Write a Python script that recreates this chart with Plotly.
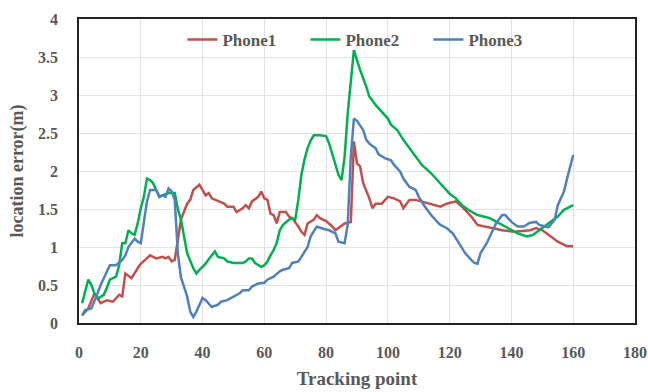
import plotly.graph_objects as go

# Phone1 (red)
p1_x = [1,3,5,7,9,11,13,14,15,17,19,20,23,25,27,28,29,30,31,33,35,36,37,39,41,42,43,45,47,48,50,51,53,54,55,56,58,59,60,61,62,63,64,65,67,68,69,71,72,73,74,76,77,78,80,82,83,84,86,88,89,90,91,92,94,95,96,98,100,102,104,105,107,109,111,113,115,117,119,122,124,127,129,133,137,141,146,148,150,152,155,158,160]
p1_y = [0.10,0.19,0.39,0.26,0.30,0.28,0.37,0.35,0.65,0.59,0.72,0.78,0.89,0.85,0.87,0.85,0.87,0.81,0.83,1.36,1.57,1.62,1.75,1.82,1.68,1.71,1.64,1.60,1.57,1.53,1.53,1.46,1.51,1.55,1.51,1.60,1.66,1.73,1.64,1.62,1.44,1.42,1.31,1.46,1.46,1.40,1.38,1.27,1.20,1.16,1.31,1.36,1.42,1.38,1.34,1.27,1.22,1.25,1.31,1.33,2.39,2.10,2.06,1.84,1.64,1.51,1.57,1.57,1.66,1.64,1.60,1.51,1.62,1.62,1.60,1.57,1.55,1.53,1.57,1.60,1.53,1.40,1.29,1.25,1.22,1.20,1.22,1.25,1.22,1.16,1.07,1.01,1.01]

# Phone2 (green)
p2_x = [1,3,4,5,6,8,9,10,12,13,14,15,16,17,18,19,20,21,22,23,24,25,26,27,29,31,32,33,34,35,37,38,39,41,42,44,45,47,48,50,53,54,55,56,57,59,60,61,62,63,64,65,66,68,69,70,71,72,73,74,75,76,78,80,81,82,83,84,85,86,87,88,89,90,91,93,94,96,98,100,101,103,105,107,109,111,114,116,118,120,122,124,126,129,133,136,139,142,145,147,149,152,155,157,160]
p2_y = [0.26,0.57,0.50,0.39,0.32,0.37,0.46,0.57,0.61,0.76,1.05,1.05,1.22,1.18,1.16,1.31,1.51,1.66,1.90,1.88,1.84,1.75,1.66,1.68,1.71,1.71,1.50,1.36,1.14,0.92,0.72,0.65,0.70,0.78,0.84,0.94,0.87,0.85,0.81,0.79,0.79,0.81,0.85,0.85,0.79,0.74,0.76,0.81,0.89,0.96,1.05,1.22,1.29,1.36,1.38,1.36,1.62,1.95,2.15,2.30,2.40,2.47,2.47,2.46,2.36,2.23,2.10,1.95,1.88,2.19,2.76,3.20,3.59,3.46,3.33,3.11,2.98,2.87,2.78,2.69,2.61,2.54,2.41,2.30,2.19,2.08,1.97,1.88,1.80,1.70,1.64,1.55,1.49,1.42,1.38,1.31,1.25,1.18,1.14,1.16,1.22,1.31,1.40,1.49,1.55]

# Phone3 (blue)
p3_x = [1,2,4,5,6,7,8,9,10,12,13,14,15,16,18,19,20,21,22,23,25,26,27,28,29,30,31,32,33,34,35,36,37,38,39,40,41,42,43,45,46,48,50,52,53,55,56,58,60,61,63,65,66,68,69,71,72,74,75,77,79,81,83,84,86,87,88,89,90,92,93,94,96,97,99,101,102,104,105,107,109,110,112,114,116,117,119,121,123,125,127,128,129,130,132,134,135,137,138,140,142,144,146,148,149,152,154,155,157,158,160]
p3_y = [0.10,0.17,0.19,0.28,0.39,0.50,0.59,0.68,0.76,0.76,0.79,0.83,0.89,1.00,1.11,1.07,1.05,1.31,1.60,1.75,1.75,1.66,1.68,1.66,1.77,1.73,1.62,0.92,0.60,0.48,0.35,0.15,0.08,0.15,0.25,0.33,0.30,0.26,0.21,0.24,0.28,0.30,0.35,0.39,0.43,0.43,0.48,0.52,0.53,0.57,0.61,0.68,0.70,0.72,0.79,0.81,0.87,1.00,1.14,1.27,1.24,1.22,1.18,1.07,1.05,1.30,2.20,2.69,2.66,2.54,2.41,2.36,2.30,2.22,2.17,2.14,2.08,1.99,1.90,1.79,1.75,1.66,1.53,1.42,1.33,1.29,1.25,1.18,1.05,0.92,0.83,0.79,0.78,0.92,1.05,1.22,1.31,1.42,1.42,1.33,1.27,1.27,1.32,1.33,1.29,1.26,1.36,1.55,1.73,1.90,2.21]

names = ["Phone1", "Phone2", "Phone3"]
colors = ["#C0504D", "#00B050", "#4F81BD"]

FONT = "Liberation Serif"
GREY = "#595959"

fig = go.Figure()
for nm, xs, ys, c in zip(names, [p1_x, p2_x, p3_x], [p1_y, p2_y, p3_y], colors):
    fig.add_trace(go.Scatter(x=xs, y=ys, mode="lines", name=nm,
                             line=dict(color=c, width=2.5)))

fig.update_layout(
    width=648, height=392,
    margin=dict(l=79, r=13, t=19, b=69, autoexpand=False),
    paper_bgcolor="white", plot_bgcolor="white",
    font=dict(family=FONT, color=GREY),
    showlegend=True,
    legend=dict(orientation="h", x=0.186, y=0.99, xanchor="left", yanchor="top",
                font=dict(family=FONT, size=17, color=GREY, weight="bold"),
                entrywidth=78, entrywidthmode="pixels",
                bgcolor="rgba(0,0,0,0)", tracegroupgap=0),
)
fig.update_xaxes(range=[0, 180], dtick=20, tick0=0, automargin=False,
                 showgrid=True, gridcolor="#E3E3E3", gridwidth=1,
                 showline=True, linecolor="#222222", linewidth=1.5, mirror=True,
                 zeroline=False, ticks="", ticklabelstandoff=14,
                 tickfont=dict(family=FONT, size=16, color=GREY, weight="bold"),
                 title=dict(text="Tracking point", standoff=12,
                            font=dict(family=FONT, size=19, color=GREY, weight="bold")))
fig.update_yaxes(range=[0, 4], dtick=0.5, tick0=0, automargin=False,
                 showgrid=True, gridcolor="#E3E3E3", gridwidth=1,
                 showline=True, linecolor="#222222", linewidth=1.5, mirror=True,
                 zeroline=False, ticks="", ticklabelstandoff=16,
                 tickfont=dict(family=FONT, size=16, color=GREY, weight="bold"),
                 title=dict(text="location error(m)", standoff=10,
                            font=dict(family=FONT, size=18, color=GREY, weight="bold")))

fig.write_html("out.html")
